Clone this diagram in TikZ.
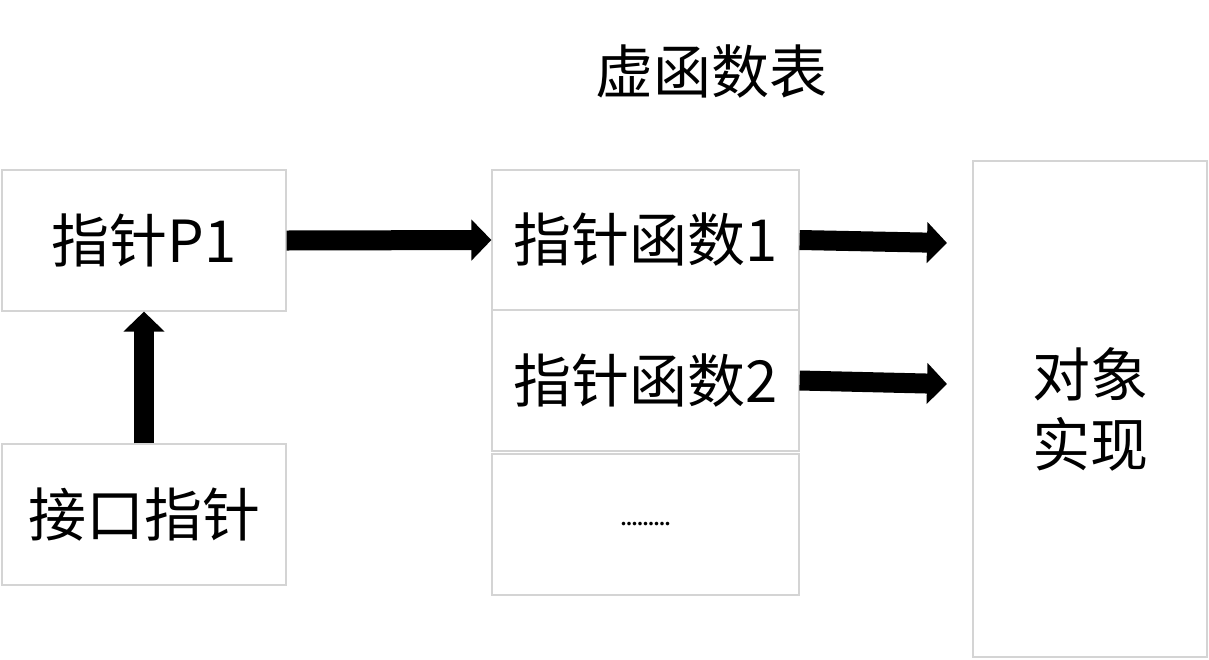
\documentclass[tikz,border=0pt]{standalone}
\usepackage{fontspec}
\setmainfont{Noto Sans CJK SC}
\newfontfamily\dotfont{Liberation Serif}
\usetikzlibrary{arrows.meta}
\definecolor{boxgray}{HTML}{D4D4D4}
\begin{document}
\begin{tikzpicture}[x=1pt,y=-1pt,
  box/.style={draw=boxgray, line width=1.2pt, inner sep=0pt},
  lbl/.style={font=\fontsize{58}{70}\selectfont, align=center},
  blockarrow/.style={line width=20pt, draw=black, -{Triangle[width=40pt,length=20pt]}}]
\useasboundingbox (0,0) rectangle (1209,659);
\node[lbl] (title) at (711,72) {虚函数表};
\node[box, lbl, minimum width=284pt, minimum height=141pt] (p1) at (144,240.5) {指针P1};
\node[box, lbl, minimum width=284pt, minimum height=141pt] (ifp) at (144,514.5) {接口指针};
\node[box, lbl, minimum width=307pt, minimum height=140pt] (f1) at (645.5,240) {指针函数1};
\node[box, lbl, minimum width=307pt, minimum height=141pt] (f2) at (645.5,380.5) {指针函数2};
\node[box, minimum width=307pt, minimum height=141pt] (dots) at (645.5,524.5) {};
\node[font=\dotfont\bfseries\fontsize{22}{26}\selectfont, inner sep=0pt] (dd) at (dots.center) {.........};
\node[box, lbl, minimum width=234pt, minimum height=496pt] (obj) at (1090,409) {对象\\实现};
\coordinate (t1) at (947,243);
\coordinate (t2) at (947,384);
\draw[blockarrow] (p1.east) -- (f1.west);
\draw[blockarrow] (f1.east) -- (t1);
\draw[blockarrow] (f2.east) -- (t2);
\draw[blockarrow] (ifp.north) -- (p1.south);
\end{tikzpicture}
\end{document}
